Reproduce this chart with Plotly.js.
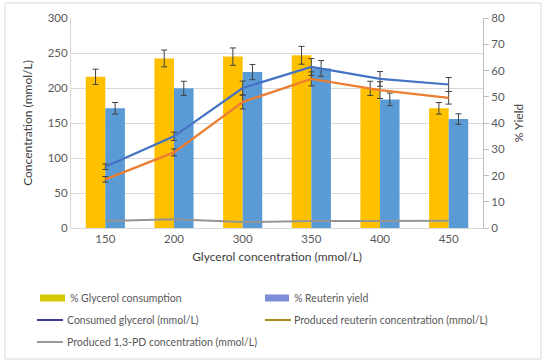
<!DOCTYPE html>
<html>
<head>
<meta charset="utf-8">
<script src="https://cdn.plot.ly/plotly-3.0.1.min.js"></script>
<style>
html,body{margin:0;padding:0;background:#fff;}
#chart{width:550px;height:364px;}
</style>
</head>
<body>
<div id="chart"></div>
<script>
var categories = ['150', '200', '300', '350', '400', '450'];
var glycerolConsumptionPct = [57.6, 64.6, 65.3, 65.8, 53.2, 45.6];
var glycerolConsumptionErr = [2.9, 3.2, 3.3, 3.4, 2.7, 2.2];
var reuterinYieldPct = [45.6, 53.2, 59.4, 60.8, 49.0, 41.5];
var reuterinYieldErr = [2.2, 2.7, 2.9, 3.0, 2.4, 2.0];
var consumedGlycerol = [87.6, 131, 200, 230, 213, 205];
var consumedGlycerolErr = [4, 6, 10, 12, 10.5, 10];
var producedReuterin = [69.5, 108, 180, 213, 197, 186];
var producedReuterinErr = [4, 5, 10, 10, 12, 9];
var produced13PD = [10, 12.4, 8.5, 10, 10, 10.5];

var seriesNames = ['% Glycerol consumption', '% Reuterin yield', 'Consumed glycerol (mmol/L)',
  'Produced reuterin concentration (mmol/L)', 'Produced 1,3-PD concentration (mmol/L)'];
// legend swatch colours as they appear in the reference legend
var legendColors = ['#D6C800', '#7C8CD6', '#3C3CA0', '#A88A1E', '#999999'];
var legendTypes = ['bar', 'bar', 'line', 'line', 'line'];

var errStyle = {color: '#404040', thickness: 1, width: 3};
var FONT = 'Lato, "Open Sans", sans-serif';

var traces = [
  {type: 'bar', x: categories, y: glycerolConsumptionPct, yaxis: 'y', name: seriesNames[0],
   marker: {color: '#FFC000'},
   error_y: Object.assign({type: 'data', array: glycerolConsumptionErr, visible: true}, errStyle)},
  {type: 'bar', x: categories, y: reuterinYieldPct, yaxis: 'y', name: seriesNames[1],
   marker: {color: '#5B9BD5'},
   error_y: Object.assign({type: 'data', array: reuterinYieldErr, visible: true}, errStyle)},
  {type: 'scatter', mode: 'lines', x: categories, y: consumedGlycerol, yaxis: 'y2', name: seriesNames[2],
   line: {color: '#4472C4', width: 2.25},
   error_y: Object.assign({type: 'data', array: consumedGlycerolErr, visible: true}, errStyle)},
  {type: 'scatter', mode: 'lines', x: categories, y: producedReuterin, yaxis: 'y2', name: seriesNames[3],
   line: {color: '#ED7D31', width: 2.25},
   error_y: Object.assign({type: 'data', array: producedReuterinErr, visible: true}, errStyle)},
  {type: 'scatter', mode: 'lines', x: categories, y: produced13PD, yaxis: 'y2', name: seriesNames[4],
   line: {color: '#949494', width: 2}}
];

// plot area in pixels (for placing the legend drawn below the plot)
var PL = 71, PR = 483, PT = 18, PB = 228;
function px2x(p) { return (p - PL) / (PR - PL); }
function py2y(p) { return (PB - p) / (PB - PT); }

var shapes = [{type: 'rect', xref: 'paper', yref: 'paper', x0: px2x(5), x1: px2x(541), y0: py2y(359), y1: py2y(3),
  line: {color: '#D9D9D9', width: 1}, fillcolor: 'rgba(0,0,0,0)', layer: 'below'}];
var annotations = [];
// legend slots: [swatch left, swatch right, text left, row centre y]
var legendSlots = [[40, 65, 68, 298], [265, 289, 292, 298], [37, 63, 65, 320], [265, 291, 292, 320], [37, 63, 65, 342]];
for (var i = 0; i < seriesNames.length; i++) {
  var s = legendSlots[i];
  if (legendTypes[i] === 'bar') {
    shapes.push({type: 'rect', xref: 'paper', yref: 'paper', x0: px2x(s[0]), x1: px2x(s[1]),
      y0: py2y(s[3] + 3.5), y1: py2y(s[3] - 3.5), line: {width: 0}, fillcolor: legendColors[i]});
  } else {
    shapes.push({type: 'line', xref: 'paper', yref: 'paper', x0: px2x(s[0]), x1: px2x(s[1]),
      y0: py2y(s[3]), y1: py2y(s[3]), line: {color: legendColors[i], width: 2}});
  }
  annotations.push({xref: 'paper', yref: 'paper', x: px2x(s[2]), y: py2y(s[3]), xanchor: 'left', yanchor: 'middle',
    showarrow: false, text: seriesNames[i], font: {family: FONT, size: 10.5, color: '#595959'}});
}

var layout = {
  width: 550, height: 364,
  margin: {l: PL, r: 550 - PR, t: PT, b: 364 - PB},
  paper_bgcolor: '#ffffff', plot_bgcolor: '#ffffff',
  font: {family: FONT, size: 11.5, color: '#595959'},
  barmode: 'group', bargap: 0.43, bargroupgap: 0,
  showlegend: false,
  xaxis: {type: 'category', categoryorder: 'array', categoryarray: categories,
    showline: true, linecolor: '#D9D9D9', linewidth: 1, ticks: '', showgrid: false,
    tickfont: {family: FONT, size: 11.5, color: '#595959'},
    title: {text: 'Glycerol concentration (mmol/L)', font: {family: FONT, size: 12, color: '#404040'}, standoff: 8}},
  yaxis: {side: 'right', range: [0, 80], dtick: 10, showgrid: false, zeroline: false,
    showline: true, linecolor: '#BFBFBF', linewidth: 1, ticks: 'outside', ticklen: 5, tickcolor: '#BFBFBF',
    tickfont: {family: FONT, size: 11.5, color: '#595959'},
    title: {text: '% Yield', font: {family: FONT, size: 12, color: '#404040'}, standoff: 10}},
  yaxis2: {overlaying: 'y', side: 'left', range: [0, 300], dtick: 50, showgrid: true, gridcolor: '#D9D9D9',
    zeroline: false, showline: true, linecolor: '#D9D9D9', linewidth: 1, ticks: '',
    tickfont: {family: FONT, size: 11.5, color: '#595959'},
    title: {text: 'Concentration (mmol/L)', font: {family: FONT, size: 12, color: '#404040'}, standoff: 12}},
  shapes: shapes,
  annotations: annotations
};

Plotly.newPlot('chart', traces, layout, {displayModeBar: false, staticPlot: true});
</script>
</body>
</html>
